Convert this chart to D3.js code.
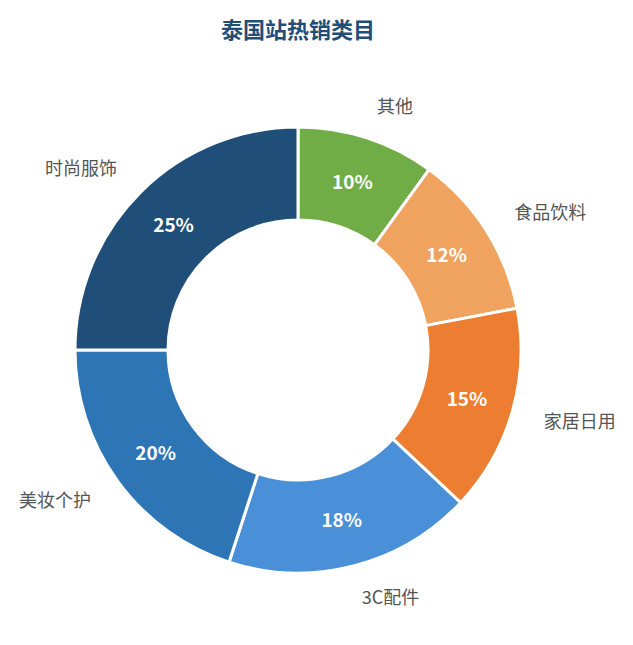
<!DOCTYPE html>
<html><head><meta charset="utf-8">
<script src="https://cdn.jsdelivr.net/npm/d3@7/dist/d3.min.js"></script>
<style>body{margin:0;background:#fff}</style></head>
<body><svg id="c" width="633" height="645"></svg>
<script>
const categories = ["其他","食品饮料","家居日用","3C配件","美妆个护","时尚服饰"];
const values = [10,12,15,18,20,25];
const colors = ["#70ad47","#f0a35e","#ed7d31","#4a90d9","#2e75b6","#1f4e79"];
const font = "'Noto Sans CJK SC','Noto Sans',sans-serif";
const svg = d3.select("#c");
const cx = 298, cy = 350, R = 223, r0 = 130;
svg.append("text").attr("x",298).attr("y",38).attr("text-anchor","middle")
  .attr("font-family",font).attr("font-size",22).attr("font-weight","bold")
  .attr("fill","#1f4e79").text("泰国站热销类目");
const data = categories.map((c,i)=>({c,v:values[i],col:colors[i]}));
const pie = d3.pie().value(d=>d.v).sort(null);
const arcs = pie(data);
const arc = d3.arc().innerRadius(r0).outerRadius(R);
const g = svg.append("g").attr("transform",`translate(${cx},${cy})`);
g.selectAll("path").data(arcs).join("path").attr("d",arc)
  .attr("fill",d=>d.data.col).attr("stroke","#fff").attr("stroke-width",3);
const mid = d3.arc().innerRadius(176).outerRadius(176);
g.selectAll("text.p").data(arcs).join("text").attr("class","p")
  .attr("transform",d=>`translate(${mid.centroid(d)})`)
  .attr("text-anchor","middle").attr("dy","0.35em")
  .attr("font-family",font).attr("font-size",19).attr("font-weight","bold")
  .attr("fill","#fff").text(d=>d.data.v+"%");
const lab = d3.arc().innerRadius(256).outerRadius(256);
g.selectAll("text.l").data(arcs).join("text").attr("class","l")
  .attr("transform",d=>`translate(${lab.centroid(d)})`)
  .attr("text-anchor",d=>{const a=(d.startAngle+d.endAngle)/2;return Math.sin(a)>0?"start":"end";})
  .attr("dy","0.35em")
  .attr("font-family",font).attr("font-size",18)
  .attr("fill","#555").text(d=>d.data.c);
</script></body></html>
